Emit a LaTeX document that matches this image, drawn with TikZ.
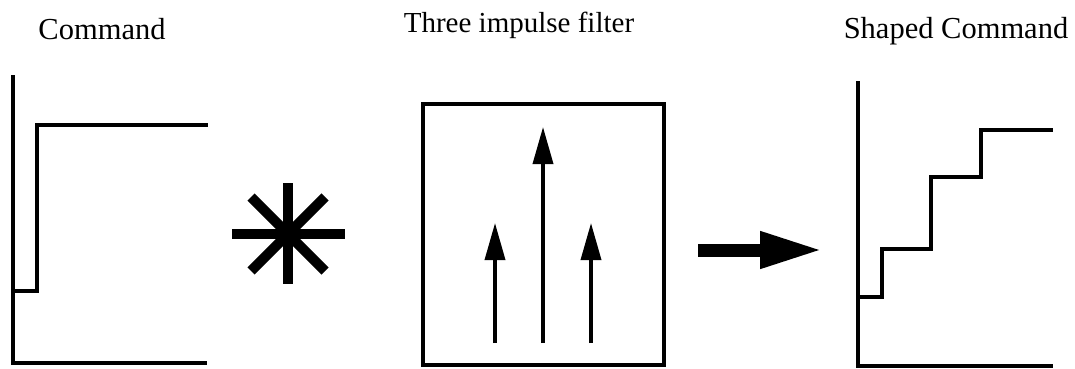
\documentclass[tikz,border=0pt]{standalone}
\usepackage{fontspec}
\setmainfont{Liberation Serif}
\usetikzlibrary{arrows.meta,calc}
\tikzset{
  plotline/.style={line width=3.6pt, line join=miter},
  boxline/.style={line width=3.6pt},
  impulse/.style={line width=3.6pt, -{Triangle[length=37pt,width=20pt]}},
  bigarrow/.style={line width=13pt, -{Triangle[length=63pt,width=34pt]}},
  starline/.style={line width=10pt, line cap=butt},
  label/.style={font=\fontsize{30.5}{36}\selectfont, inner sep=0pt, anchor=base}
}
\begin{document}
\begin{tikzpicture}[x=1pt,y=-1pt]
\useasboundingbox (0,0) rectangle (1075,369);
% titles
\node[label] (t1) at (102,40) {Command};
\node[label, font=\fontsize{29}{34}\selectfont] (t2) at (519,33) {Three impulse filter};
\node[label] (t3) at (956,38) {Shaped Command};
% command plot
\draw[plotline] (13,75) -- (13,363) -- (207,363);
\draw[plotline] (13,291) -- (37,291) -- (37,125) -- (208,125);
% asterisk
\coordinate (sc) at (288,234);
\draw[starline] (232,234) -- (345,234);
\draw[starline] (288,183) -- (288,284);
\draw[starline] ($(sc)+(-37,-37)$) -- ($(sc)+(37,37)$);
\draw[starline] ($(sc)+(37,-37)$) -- ($(sc)+(-37,37)$);
% filter box
\draw[boxline] (423,104) rectangle (664,365);
\coordinate (a1s) at (495,343); \coordinate (a1e) at (495,223);
\coordinate (a2s) at (543,343); \coordinate (a2e) at (543,127);
\coordinate (a3s) at (591,343); \coordinate (a3e) at (591,223);
\draw[impulse] (a1s) -- (a1e);
\draw[impulse] (a2s) -- (a2e);
\draw[impulse] (a3s) -- (a3e);
% big arrow
\coordinate (bs) at (698,250); \coordinate (be) at (823,250);
\draw[bigarrow] (bs) -- (be);
% shaped command plot
\draw[plotline] (858,81) -- (858,366) -- (1053,366);
\draw[plotline] (858,297) -- (882,297) -- (882,249) -- (931,249) -- (931,177) -- (981,177) -- (981,130) -- (1053,130);
\end{tikzpicture}
\end{document}
